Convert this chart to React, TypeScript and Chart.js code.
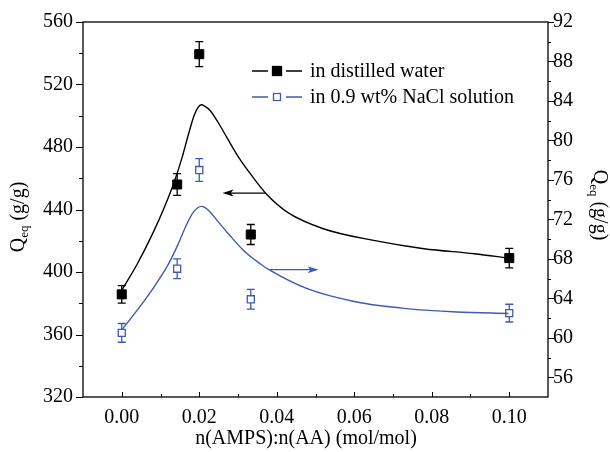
import React, { useEffect, useRef } from "react";
import { Chart, registerables } from "chart.js";

Chart.register(...registerables);

// ---- data ----
const xPoints = [0, 0.0143, 0.02, 0.0333, 0.1];
const waterQ = [385.7, 456.0, 539.4, 424.0, 408.9];
const waterErr = [5.6, 6.9, 8.0, 6.4, 6.2];
const salineQ = [60.5, 67.0, 77.0, 63.9, 62.5];
const salineErr = [0.95, 1.0, 1.15, 1.0, 0.9];

const waterFitX = [0, 0.004, 0.008, 0.011, 0.0135, 0.0155, 0.0172, 0.0187, 0.0197, 0.0205, 0.0214, 0.0228, 0.0248, 0.0272, 0.03, 0.0335, 0.0375, 0.043, 0.052, 0.065, 0.078, 0.091, 0.1];
const waterFitY = [388.3, 405.1, 424.7, 441.5, 457.3, 472.7, 488.0, 500.3, 505.3, 507.0, 506.2, 503.4, 496.0, 485.8, 474.0, 461.8, 449.4, 437.8, 427.7, 420.2, 414.9, 411.7, 408.9];

const salineFitX = [0, 0.004, 0.008, 0.012, 0.0145, 0.0165, 0.0183, 0.0196, 0.0205, 0.0215, 0.0228, 0.0248, 0.0274, 0.0313, 0.0357, 0.0382, 0.0477, 0.0606, 0.0736, 0.0865, 0.0998];
const salineFitY = [60.8, 62.8, 64.96, 67.44, 69.44, 71.28, 72.63, 73.18, 73.32, 73.2, 72.75, 71.8, 70.6, 68.9, 67.5, 66.85, 65.0, 63.63, 62.96, 62.62, 62.46];

const xTicks = [0, 0.02, 0.04, 0.06, 0.08, 0.1];
const xMinorTicks = [0.01, 0.03, 0.05, 0.07, 0.09];
const leftTicks = [320, 360, 400, 440, 480, 520, 560];
const leftMinorTicks = [340, 380, 420, 460, 500, 540];
const rightTicks = [56, 60, 64, 68, 72, 76, 80, 84, 88, 92];
const rightMinorTicks = [58, 62, 66, 70, 74, 78, 82, 86, 90];

// arrows: [fromX, toX, level]
const waterArrow = [0.037, 0.026, 450.5];
const salineArrow = [0.0382, 0.0508, 66.9];

const legendLabels = ["in distilled water", "in 0.9 wt% NaCl solution"];
const xTitle = "n(AMPS):n(AA) (mol/mol)";
const yTitleMain = "Q";
const yTitleSub = "eq";
const yTitleUnit = " (g/g)";

const BLUE = "#3d5cb0";
const FONT = "'Liberation Serif', 'Times New Roman', serif";

function drawArrow(ctx: CanvasRenderingContext2D, x0: number, x1: number, y: number, color: string) {
  ctx.save();
  ctx.strokeStyle = color;
  ctx.fillStyle = color;
  ctx.lineWidth = 1.3;
  const dir = Math.sign(x1 - x0);
  const headLen = 11;
  ctx.beginPath();
  ctx.moveTo(x0, y);
  ctx.lineTo(x1 - dir * headLen * 0.6, y);
  ctx.stroke();
  ctx.beginPath();
  ctx.moveTo(x1, y);
  ctx.lineTo(x1 - dir * headLen, y - 3.5);
  ctx.lineTo(x1 - dir * headLen * 0.75, y);
  ctx.lineTo(x1 - dir * headLen, y + 3.5);
  ctx.closePath();
  ctx.fill();
  ctx.restore();
}

function drawTitle(ctx: CanvasRenderingContext2D, cx: number, cy: number, rot: number) {
  ctx.save();
  ctx.translate(cx, cy);
  ctx.rotate(rot);
  ctx.fillStyle = "#000";
  ctx.textBaseline = "alphabetic";
  ctx.textAlign = "left";
  const big = `20px ${FONT}`;
  const small = `13px ${FONT}`;
  ctx.font = big;
  const wQ = ctx.measureText(yTitleMain).width;
  const wU = ctx.measureText(yTitleUnit).width;
  ctx.font = small;
  const wS = ctx.measureText(yTitleSub).width;
  const total = wQ + wS + wU;
  let x = -total / 2;
  const base = 7;
  ctx.font = big;
  ctx.fillText(yTitleMain, x, base);
  x += wQ;
  ctx.font = small;
  ctx.fillText(yTitleSub, x, base + 4);
  x += wS;
  ctx.font = big;
  ctx.fillText(yTitleUnit, x, base);
  ctx.restore();
}

const decorPlugin = {
  id: "decor",
  beforeDatasetsDraw(chart: any) {
    const ctx = chart.ctx as CanvasRenderingContext2D;
    const xs = chart.scales.x;
    const ys = chart.scales.y;
    const y2 = chart.scales.y2;
    const cap = 4;
    ctx.save();
    ctx.lineWidth = 1.3;
    const draw = (vals: number[], errs: number[], scale: any, color: string) => {
      ctx.strokeStyle = color;
      vals.forEach((v, i) => {
        const px = xs.getPixelForValue(xPoints[i]);
        const top = scale.getPixelForValue(v + errs[i]);
        const bot = scale.getPixelForValue(v - errs[i]);
        ctx.beginPath();
        ctx.moveTo(px, top);
        ctx.lineTo(px, bot);
        ctx.moveTo(px - cap, top);
        ctx.lineTo(px + cap, top);
        ctx.moveTo(px - cap, bot);
        ctx.lineTo(px + cap, bot);
        ctx.stroke();
      });
    };
    draw(waterQ, waterErr, ys, "#000");
    draw(salineQ, salineErr, y2, BLUE);
    ctx.restore();
  },
  afterDraw(chart: any) {
    const ctx = chart.ctx as CanvasRenderingContext2D;
    const a = chart.chartArea;
    const xs = chart.scales.x;
    const ys = chart.scales.y;
    const y2 = chart.scales.y2;
    ctx.save();
    ctx.strokeStyle = "#000";
    ctx.lineWidth = 1.3;
    ctx.strokeRect(a.left, a.top, a.right - a.left, a.bottom - a.top);
    ctx.lineWidth = 1;
    ctx.beginPath();
    xTicks.forEach((v) => {
      const p = Math.round(xs.getPixelForValue(v)) + 0.5;
      ctx.moveTo(p, a.bottom);
      ctx.lineTo(p, a.bottom - 5);
    });
    xMinorTicks.forEach((v) => {
      const p = Math.round(xs.getPixelForValue(v)) + 0.5;
      ctx.moveTo(p, a.bottom);
      ctx.lineTo(p, a.bottom - 3);
    });
    leftTicks.forEach((v) => {
      const p = Math.round(ys.getPixelForValue(v)) + 0.5;
      ctx.moveTo(a.left, p);
      ctx.lineTo(a.left - 7, p);
    });
    leftMinorTicks.forEach((v) => {
      const p = Math.round(ys.getPixelForValue(v)) + 0.5;
      ctx.moveTo(a.left, p);
      ctx.lineTo(a.left - 4, p);
    });
    rightTicks.forEach((v) => {
      const p = Math.round(y2.getPixelForValue(v)) + 0.5;
      ctx.moveTo(a.right, p);
      ctx.lineTo(a.right + 6, p);
    });
    rightMinorTicks.forEach((v) => {
      const p = Math.round(y2.getPixelForValue(v)) + 0.5;
      ctx.moveTo(a.right, p);
      ctx.lineTo(a.right + 3, p);
    });
    ctx.stroke();

    // arrows
    drawArrow(ctx, xs.getPixelForValue(waterArrow[0]), xs.getPixelForValue(waterArrow[1]), ys.getPixelForValue(waterArrow[2]), "#000");
    drawArrow(ctx, xs.getPixelForValue(salineArrow[0]), xs.getPixelForValue(salineArrow[1]), y2.getPixelForValue(salineArrow[2]), BLUE);

    // legend
    const lx0 = 252, lx1 = 302, ltx = 310;
    const rows = [
      { y: 71, color: "#000", fill: "#000" },
      { y: 97, color: BLUE, fill: "#fff" },
    ];
    ctx.font = `20px ${FONT}`;
    ctx.textBaseline = "middle";
    ctx.textAlign = "left";
    rows.forEach((r, i) => {
      ctx.strokeStyle = r.color;
      ctx.lineWidth = 1.3;
      ctx.beginPath();
      ctx.moveTo(lx0, r.y);
      ctx.lineTo(lx0 + 16, r.y);
      ctx.moveTo(lx1 - 16, r.y);
      ctx.lineTo(lx1, r.y);
      ctx.stroke();
      const mx = (lx0 + lx1) / 2;
      const s = i === 0 ? 4.5 : 3.5;
      ctx.fillStyle = r.fill;
      ctx.fillRect(mx - s, r.y - s, 2 * s, 2 * s);
      ctx.strokeRect(mx - s, r.y - s, 2 * s, 2 * s);
      ctx.fillStyle = "#000";
      ctx.fillText(legendLabels[i], ltx, r.y + 1);
    });

    // titles
    ctx.textAlign = "center";
    ctx.textBaseline = "middle";
    ctx.fillStyle = "#000";
    ctx.font = `20px ${FONT}`;
    ctx.fillText(xTitle, 306, 439);
    drawTitle(ctx, 17, 217, -Math.PI / 2);
    drawTitle(ctx, 601, 205, Math.PI / 2);
    ctx.restore();
  },
};

export default function App() {
  const ref = useRef<HTMLCanvasElement | null>(null);
  useEffect(() => {
    document.body.style.margin = "0";
    const canvas = ref.current;
    if (!canvas) return;
    const tickFont = { family: FONT, size: 20 };
    const noGrid = { display: false, drawTicks: false };
    const chart = new Chart(canvas, {
      type: "scatter",
      data: {
        datasets: [
          {
            label: "fit water",
            data: waterFitX.map((x, i) => ({ x, y: waterFitY[i] })),
            showLine: true,
            borderColor: "#000",
            borderWidth: 1.4,
            pointRadius: 0,
            cubicInterpolationMode: "monotone",
            yAxisID: "y",
          },
          {
            label: "fit saline",
            data: salineFitX.map((x, i) => ({ x, y: salineFitY[i] })),
            showLine: true,
            borderColor: BLUE,
            borderWidth: 1.4,
            pointRadius: 0,
            cubicInterpolationMode: "monotone",
            yAxisID: "y2",
          },
          {
            label: legendLabels[0],
            data: xPoints.map((x, i) => ({ x, y: waterQ[i] })),
            showLine: false,
            pointStyle: "rect",
            pointRadius: 6.4,
            backgroundColor: "#000",
            borderColor: "#000",
            borderWidth: 1,
            yAxisID: "y",
          },
          {
            label: legendLabels[1],
            data: xPoints.map((x, i) => ({ x, y: salineQ[i] })),
            showLine: false,
            pointStyle: "rect",
            pointRadius: 5,
            backgroundColor: "#fff",
            borderColor: BLUE,
            borderWidth: 1.3,
            yAxisID: "y2",
          },
        ],
      },
      options: {
        responsive: false,
        animation: false,
        devicePixelRatio: 1,
        layout: { padding: { top: 21, left: 0, right: 0, bottom: 0 } },
        plugins: { legend: { display: false }, tooltip: { enabled: false } },
        scales: {
          x: {
            type: "linear",
            min: -0.01,
            max: 0.11,
            grid: noGrid,
            border: { display: false },
            afterBuildTicks: (s: any) => {
              s.ticks = xTicks.map((v) => ({ value: v }));
            },
            afterFit: (s: any) => {
              s.height = 55;
            },
            ticks: {
              font: tickFont,
              color: "#000",
              padding: 9,
              maxRotation: 0,
              autoSkip: false,
              callback: (v: any) => Number(v).toFixed(2),
            },
          },
          y: {
            type: "linear",
            position: "left",
            min: 320,
            max: 560,
            grid: noGrid,
            border: { display: false },
            afterBuildTicks: (s: any) => {
              s.ticks = leftTicks.map((v) => ({ value: v }));
            },
            afterFit: (s: any) => {
              s.width = 83;
            },
            ticks: { font: tickFont, color: "#000", padding: 10, autoSkip: false },
          },
          y2: {
            type: "linear",
            position: "right",
            min: 54,
            max: 92,
            grid: noGrid,
            border: { display: false },
            afterBuildTicks: (s: any) => {
              s.ticks = rightTicks.map((v) => ({ value: v }));
            },
            afterFit: (s: any) => {
              s.width = 62;
            },
            ticks: { font: tickFont, color: "#000", padding: 5, autoSkip: false },
          },
        },
      },
      plugins: [decorPlugin],
    } as any);
    return () => chart.destroy();
  }, []);
  return (
    <div style={{ width: 610, height: 452, background: "#fff" }}>
      <canvas ref={ref} width={610} height={452} style={{ display: "block" }} />
    </div>
  );
}
